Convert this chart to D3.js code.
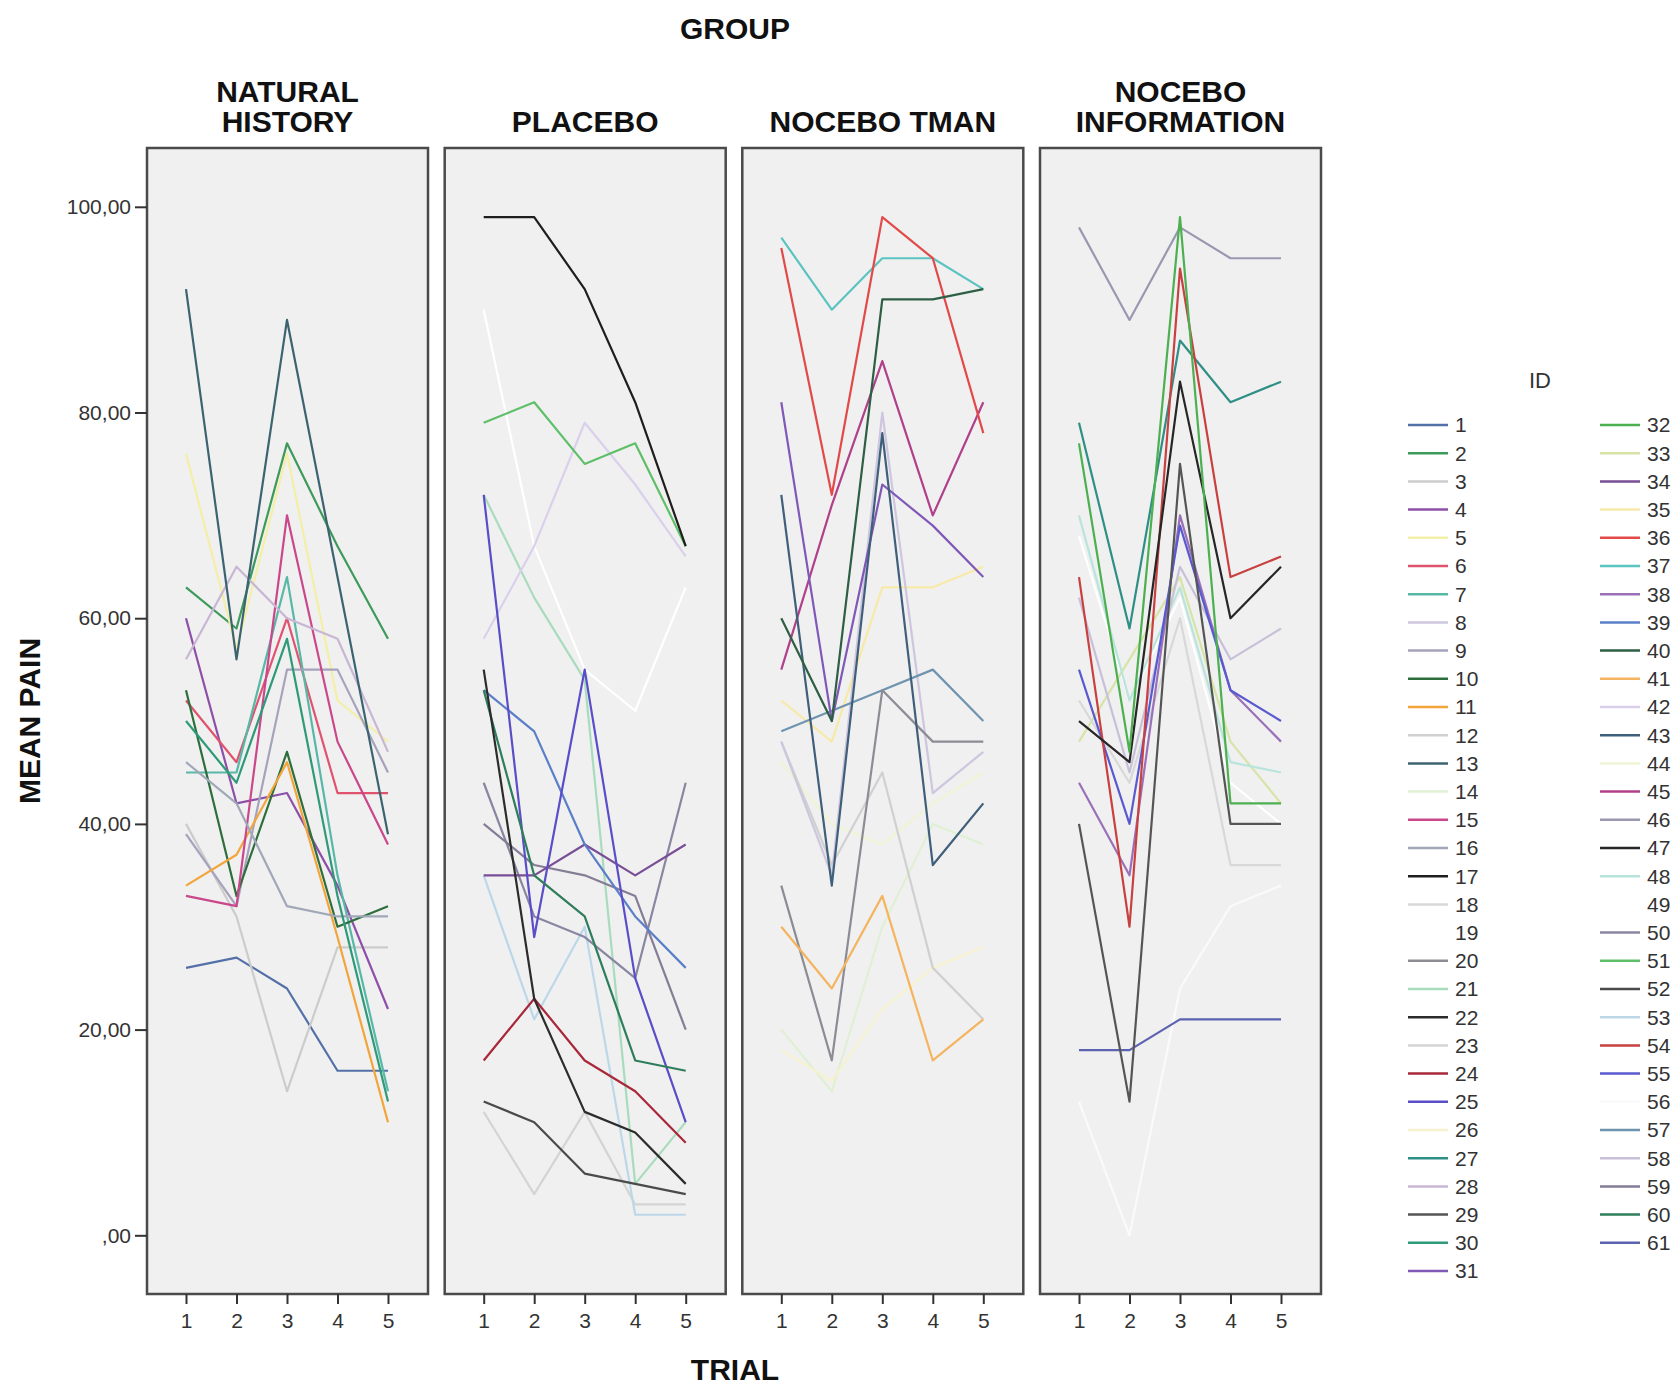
<!DOCTYPE html>
<html>
<head>
<meta charset="utf-8">
<script src="https://cdn.jsdelivr.net/npm/d3@7"></script>
<style>
	body { margin: 0; background: #fff; }
	svg { font-family: 'Liberation Sans', Arial, sans-serif; }
	.title { font-weight: bold; fill: #111; }
	.tick text { fill: #333; }
</style>
</head>
<body>
<script>
// Data (mean pain per trial, per subject)
const trials = [1, 2, 3, 4, 5];
const groupNames = [['NATURAL', 'HISTORY'], ['PLACEBO'], ['NOCEBO TMAN'], ['NOCEBO', 'INFORMATION']];
const yTicks = [0, 20, 40, 60, 80, 100];
const legendIds = d3.range(1, 62);

// colour per subject ID (1..61)
const idColors = [
	'#5470a8', '#3d9a5a', '#cccccc', '#8e4fa8', '#f3efa8', '#e0536e', '#58b8a8', '#cdc6de', '#a6a2bc', '#2e6e3c',
	'#f2a53a', '#d0d0d0', '#3b6470', '#dff0d4', '#c9478a', '#a0a8b8', '#1e1e1e', '#d8d8d8', '#ffffff', '#8c8c94',
	'#a8dcbc', '#2c2c2c', '#d4d4d4', '#a8283a', '#5a4ec8', '#f6f2d0', '#2f8f86', '#c8b6d4', '#555555', '#2f9a78',
	'#8058b8', '#4caf50', '#d6e4a8', '#7a4e96', '#f7eaa8', '#e24a4a', '#5cc4c0', '#9a70b8', '#5a7fc8', '#2e5e44',
	'#f5b460', '#dad0ec', '#3f5f7a', '#eef4d4', '#b0408a', '#9a98b0', '#262626', '#b8e4dc', '#ffffff', '#8a86a2',
	'#5fbf68', '#4a4a4a', '#bcd8e8', '#c84040', '#5a5ad0', '#fafafa', '#6f94b0', '#c8c0d8', '#857c96', '#2e7d5b',
	'#5b62b0'
];

const naturalHistory = [
	{id: 1, pain: [26, 27, 24, 16, 16]},
	{id: 2, pain: [63, 59, 77, 67, 58]},
	{id: 3, pain: [40, 31, 14, 28, 28]},
	{id: 4, pain: [60, 42, 43, 34, 22]},
	{id: 5, pain: [76, 57, 76, 52, 48]},
	{id: 6, pain: [52, 46, 60, 43, 43]},
	{id: 7, pain: [45, 45, 64, 35, 14]},
	{id: 9, pain: [39, 32, 55, 55, 45]},
	{id: 10, pain: [53, 33, 47, 30, 32]},
	{id: 11, pain: [34, 37, 46, 29, 11]},
	{id: 15, pain: [33, 32, 70, 48, 38]},
	{id: 16, pain: [46, 42, 32, 31, 31]},
	{id: 28, pain: [56, 65, 60, 58, 47]},
	{id: 30, pain: [50, 44, 58, 33, 13]},
	{id: 13, pain: [92, 56, 89, 64, 39]}
];

const placebo = [
	{id: 19, pain: [90, 67, 55, 51, 63]},
	{id: 21, pain: [72, 62, 54, 5, 11]},
	{id: 23, pain: [12, 4, 12, 3, 3]},
	{id: 42, pain: [58, 67, 79, 73, 66]},
	{id: 53, pain: [35, 21, 30, 2, 2]},
	{id: 50, pain: [44, 31, 29, 25, 44]},
	{id: 59, pain: [40, 36, 35, 33, 20]},
	{id: 34, pain: [35, 35, 38, 35, 38]},
	{id: 39, pain: [53, 49, 38, 31, 26]},
	{id: 25, pain: [72, 29, 55, 25, 11]},
	{id: 24, pain: [17, 23, 17, 14, 9]},
	{id: 52, pain: [13, 11, 6, 5, 4]},
	{id: 60, pain: [53, 35, 31, 17, 16]},
	{id: 22, pain: [55, 23, 12, 10, 5]},
	{id: 51, pain: [79, 81, 75, 77, 67]},
	{id: 17, pain: [99, 99, 92, 81, 67]}
];

const noceboTman = [
	{id: 14, pain: [20, 14, 30, 40, 38]},
	{id: 26, pain: [18, 15, 22, 26, 28]},
	{id: 44, pain: [46, 40, 38, 42, 45]},
	{id: 35, pain: [52, 48, 63, 63, 65]},
	{id: 12, pain: [48, 36, 45, 26, 21]},
	{id: 8, pain: [48, 35, 80, 43, 47]},
	{id: 57, pain: [49, 51, 53, 55, 50]},
	{id: 20, pain: [34, 17, 53, 48, 48]},
	{id: 41, pain: [30, 24, 33, 17, 21]},
	{id: 37, pain: [97, 90, 95, 95, 92]},
	{id: 45, pain: [55, 71, 85, 70, 81]},
	{id: 31, pain: [81, 50, 73, 69, 64]},
	{id: 36, pain: [96, 72, 99, 95, 78]},
	{id: 43, pain: [72, 34, 78, 36, 42]},
	{id: 40, pain: [60, 50, 91, 91, 92]}
];

const noceboInformation = [
	{id: 56, pain: [13, 0, 24, 32, 34]},
	{id: 49, pain: [68, 52, 62, 44, 40]},
	{id: 33, pain: [48, 56, 64, 48, 42]},
	{id: 18, pain: [52, 44, 60, 36, 36]},
	{id: 48, pain: [70, 52, 63, 46, 45]},
	{id: 58, pain: [62, 45, 65, 56, 59]},
	{id: 46, pain: [98, 89, 98, 95, 95]},
	{id: 27, pain: [79, 59, 87, 81, 83]},
	{id: 61, pain: [18, 18, 21, 21, 21]},
	{id: 38, pain: [44, 35, 70, 53, 48]},
	{id: 55, pain: [55, 40, 69, 53, 50]},
	{id: 54, pain: [64, 30, 94, 64, 66]},
	{id: 29, pain: [40, 13, 75, 40, 40]},
	{id: 47, pain: [50, 46, 83, 60, 65]},
	{id: 32, pain: [77, 47, 99, 42, 42]}
];

const groupData = [naturalHistory, placebo, noceboTman, noceboInformation];

// Layout
const width = 1680;
const height = 1397;
const panelTop = 148;
const panelBottom = 1294;
const panelWidth = 281;
const panelLefts = [147, 444.7, 742.3, 1040];

const svg = d3.select('body').append('svg').attr('width', width).attr('height', height);

const x = d3.scaleLinear().domain([1, 5]).range([39, 241]);
const y = d3.scaleLinear().domain([0, 100]).range([1235.3, 206.8]);
const colour = (id) => idColors[id - 1];

const line = d3
	.line()
	.x((d, i) => x(trials[i]))
	.y((d) => y(d));

// Titles
svg.append('text')
	.attr('class', 'title')
	.attr('x', 735)
	.attr('y', 39)
	.attr('text-anchor', 'middle')
	.style('font-size', '30px')
	.text('GROUP');

svg.append('text')
	.attr('class', 'title')
	.attr('x', 735)
	.attr('y', 1380)
	.attr('text-anchor', 'middle')
	.style('font-size', '30px')
	.text('TRIAL');

svg.append('text')
	.attr('class', 'title')
	.attr('transform', 'translate(40, 721) rotate(-90)')
	.attr('text-anchor', 'middle')
	.style('font-size', '30px')
	.text('MEAN PAIN');

// Panels
groupData.forEach((rows, g) => {
	const left = panelLefts[g];
	const panel = svg.append('g').attr('transform', `translate(${left}, 0)`);

	// panel title (one or two lines, bottom line at the same height)
	const names = groupNames[g];
	names.forEach((name, k) => {
		panel.append('text')
			.attr('class', 'title')
			.attr('x', panelWidth / 2)
			.attr('y', 132 - (names.length - 1 - k) * 30)
			.attr('text-anchor', 'middle')
			.style('font-size', '30px')
			.text(name);
	});

	panel.append('rect')
		.attr('x', 0)
		.attr('y', panelTop)
		.attr('width', panelWidth)
		.attr('height', panelBottom - panelTop)
		.attr('fill', '#f0f0f0');

	panel.selectAll('path.subject')
		.data(rows)
		.enter()
		.append('path')
		.attr('class', 'subject')
		.attr('d', (d) => line(d.pain))
		.attr('fill', 'none')
		.attr('stroke', (d) => colour(d.id))
		.attr('stroke-width', 2.2)
		.attr('stroke-linejoin', 'round');

	panel.append('rect')
		.attr('x', 0)
		.attr('y', panelTop)
		.attr('width', panelWidth)
		.attr('height', panelBottom - panelTop)
		.attr('fill', 'none')
		.attr('stroke', '#4a4a4a')
		.attr('stroke-width', 2.5);

	// x axis
	const xAxis = panel.append('g')
		.attr('transform', `translate(0, ${panelBottom})`)
		.call(d3.axisBottom(x).tickValues(trials).tickSize(10).tickPadding(9).tickFormat(d3.format('d')));
	xAxis.select('.domain').remove();
	xAxis.selectAll('line').attr('stroke', '#333').attr('stroke-width', 2);
	xAxis.selectAll('text').style('font-size', '21px').attr('font-family', null);

	// y axis only on the first panel
	if (g === 0) {
		const yAxis = panel.append('g')
			.call(d3.axisLeft(y).tickValues(yTicks).tickSize(12).tickPadding(4)
				.tickFormat((d) => (d === 0 ? ',00' : d + ',00')));
		yAxis.select('.domain').remove();
		yAxis.selectAll('line').attr('stroke', '#333').attr('stroke-width', 2);
		yAxis.selectAll('text').style('font-size', '21px').attr('font-family', null);
	}
});

// Legend
svg.append('text')
	.attr('x', 1540)
	.attr('y', 388)
	.attr('text-anchor', 'middle')
	.style('font-size', '22px')
	.attr('fill', '#333')
	.text('ID');

const legendCols = [1408, 1600];
const legend = svg.selectAll('g.key')
	.data(legendIds)
	.enter()
	.append('g')
	.attr('class', 'key')
	.attr('transform', (d) => {
		const col = d <= 31 ? 0 : 1;
		const row = col === 0 ? d - 1 : d - 32;
		return `translate(${legendCols[col]}, ${425 + row * 28.2})`;
	});

legend.append('line')
	.attr('x1', 0)
	.attr('x2', 40)
	.attr('stroke', (d) => colour(d))
	.attr('stroke-width', 2.5);

legend.append('text')
	.attr('x', 47)
	.attr('dy', '0.35em')
	.style('font-size', '21px')
	.attr('fill', '#333')
	.text((d) => d);
</script>
</body>
</html>
